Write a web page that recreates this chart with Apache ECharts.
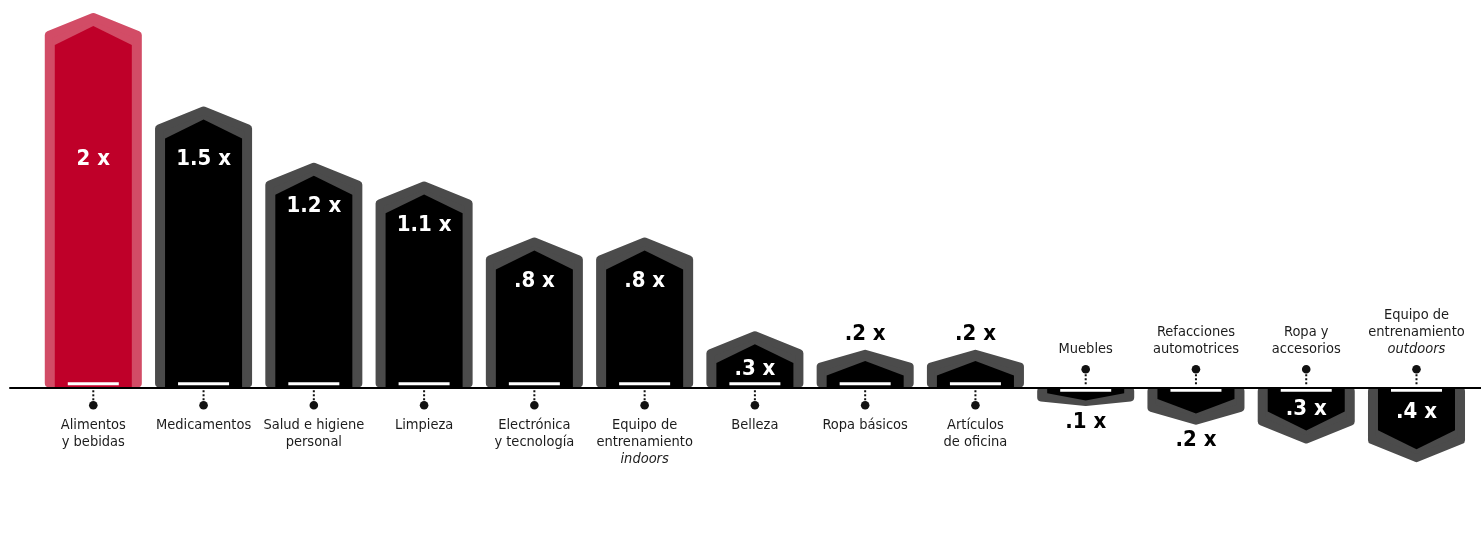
<!DOCTYPE html>
<html>
<head>
<meta charset="utf-8">
<script src="https://cdn.jsdelivr.net/npm/echarts@6/dist/echarts.min.js"></script>
<style>
  html, body { margin: 0; padding: 0; background: #ffffff; }
  #chart { width: 1481px; height: 537px; }
</style>
</head>
<body>
<div id="chart"></div>
<script>
// Growth multiple by product category (negative = decline)
const categories = [
  'Alimentos\ny bebidas',
  'Medicamentos',
  'Salud e higiene\npersonal',
  'Limpieza',
  'Electrónica\ny tecnología',
  'Equipo de\nentrenamiento\n{i|indoors}',
  'Belleza',
  'Ropa básicos',
  'Artículos\nde oficina',
  'Muebles',
  'Refacciones\nautomotrices',
  'Ropa y\naccesorios',
  'Equipo de\nentrenamiento\n{i|outdoors}'
];
const values = [2, 1.5, 1.2, 1.1, 0.8, 0.8, 0.3, 0.2, 0.2, -0.1, -0.2, -0.3, -0.4];
const highlightIndex = 0;

const FONT = "'Liberation Sans Narrow', 'DejaVu Sans Condensed', 'Roboto Condensed', 'Arial Narrow', Roboto, sans-serif";

function valueText(v) {
  const s = String(Math.abs(v));
  return (s.charAt(0) === '0' ? s.slice(1) : s) + ' x';
}

const seriesData = values.map((v, i) => [i, v]);

function renderItem(params, api) {
  const i = api.value(0);
  const v = api.value(1);
  const base = api.coord([i, 0]);
  const end = api.coord([i, v]);
  const cx = base[0];
  const y0 = base[1];
  const y1 = end[1];
  const dir = v >= 0 ? -1 : 1;
  const h = Math.abs(y1 - y0);
  const band = api.size([1, 0])[0];
  const W = band * 0.44;
  const T = Math.min(22, h * 0.45);
  const r = 4;
  const at = d => y0 + dir * d;

  const hi = i === highlightIndex;
  const outerColor = hi ? '#d24c66' : '#4b4b4b';
  const innerColor = hi ? '#bf0029' : '#000000';

  const iw = W - 10;
  const topInset = Math.min(13, h * 0.3);
  const it = T * 0.86;

  const children = [];
  // outer border shape with rounded joins
  children.push({
    type: 'polygon',
    shape: { points: [
      [cx - W + r, at(r)], [cx - W + r, at(h - T)], [cx, at(h - r)],
      [cx + W - r, at(h - T)], [cx + W - r, at(r)]
    ] },
    style: { fill: outerColor, stroke: outerColor, lineWidth: 2 * r, lineJoin: 'round' }
  });
  // inner body
  children.push({
    type: 'polygon',
    shape: { points: [
      [cx - iw, y0], [cx - iw, at(Math.max(h - topInset - it, 0))], [cx, at(h - topInset)],
      [cx + iw, at(Math.max(h - topInset - it, 0))], [cx + iw, y0]
    ] },
    style: { fill: innerColor }
  });
  // white tick at the baseline inside the bar
  children.push({
    type: 'rect',
    shape: { x: cx - 25.5, y: v >= 0 ? y0 - 5 : y0 + 1.5, width: 51, height: 3 },
    style: { fill: '#ffffff' }
  });

  // value label
  let ly, inside;
  if (v >= 0) {
    inside = h >= 50;
    ly = inside ? Math.min(Math.max(y1 + 44, y0 - 228), y0 - 18) : y1 - 16;
  } else {
    inside = h >= 50;
    ly = inside ? Math.max(y1 - 50, y0 + 22) : y1 + 16;
  }
  children.push({
    type: 'text',
    style: {
      x: cx, y: ly, text: valueText(v), align: 'center', verticalAlign: 'middle',
      fill: inside ? '#ffffff' : '#000000', font: 'bold 22px ' + FONT
    }
  });

  // stem: dotted line plus dot, then category label
  const dotY = y0 - dir * 18;
  children.push({
    type: 'line',
    shape: { x1: cx, y1: y0 - dir * 3, x2: cx, y2: y0 - dir * 14 },
    style: { stroke: '#111111', lineWidth: 2, lineDash: [2, 2] }
  });
  children.push({
    type: 'circle',
    shape: { cx: cx, cy: dotY, r: 4.3 },
    style: { fill: '#111111' }
  });
  children.push({
    type: 'text',
    style: {
      x: cx,
      y: v >= 0 ? y0 + 29 : y0 - 30,
      text: categories[i],
      align: 'center',
      verticalAlign: v >= 0 ? 'top' : 'bottom',
      fill: '#1c1c1c',
      fontSize: 14.5,
      fontFamily: FONT,
      lineHeight: 17,
      rich: {
        i: { fontStyle: 'italic', fontSize: 14.5, fontFamily: FONT, lineHeight: 17, fill: '#1c1c1c' }
      }
    }
  });

  return { type: 'group', children: children };
}

const chart = echarts.init(document.getElementById('chart'), null, { renderer: 'canvas' });
chart.setOption({
  animation: false,
  backgroundColor: '#ffffff',
  grid: { left: 10, right: 0, top: 13, height: 525 },
  xAxis: {
    type: 'value',
    min: -0.7554,
    max: 12.585,
    z: 5,
    axisLine: { show: true, onZero: true, lineStyle: { color: '#000000', width: 2 } },
    axisTick: { show: false },
    axisLabel: { show: false },
    splitLine: { show: false }
  },
  yAxis: {
    type: 'value',
    min: -0.8,
    max: 2,
    show: false,
    splitLine: { show: false }
  },
  series: [{
    type: 'custom',
    renderItem: renderItem,
    clip: false,
    data: seriesData
  }]
});
</script>
</body>
</html>
